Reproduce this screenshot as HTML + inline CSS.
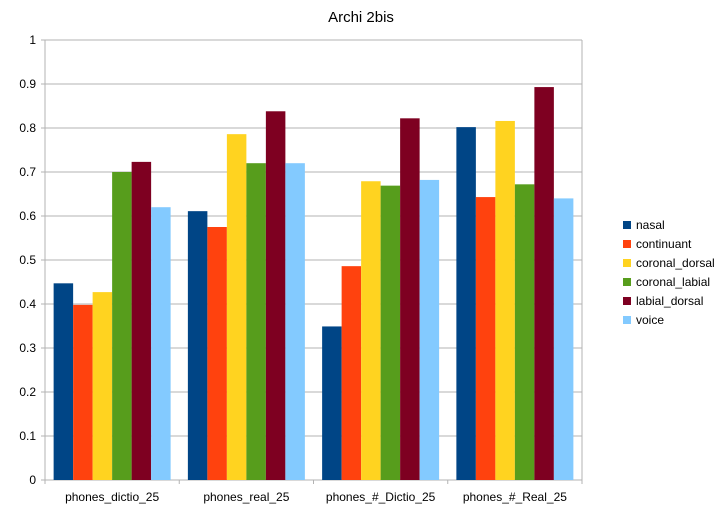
<!DOCTYPE html>
<html><head><meta charset="utf-8"><style>
body{margin:0;background:#fff;}
svg{display:block;font-family:"Liberation Sans",sans-serif;}
</style></head><body>
<svg id="c" width="722" height="526">
<rect width="722" height="526" fill="#fff"/>
<text x="361" y="22" text-anchor="middle" font-size="15">Archi 2bis</text>
<g id="grid"></g><g id="bars"></g><g id="axes"></g><g id="legend"></g>
</svg>
<script>
const categories=["phones_dictio_25","phones_real_25","phones_#_Dictio_25","phones_#_Real_25"];
const seriesNames=["nasal","continuant","coronal_dorsal","coronal_labial","labial_dorsal","voice"];
const nasal=[0.447,0.611,0.349,0.802];
const continuant=[0.398,0.575,0.486,0.643];
const coronalDorsal=[0.427,0.786,0.679,0.816];
const coronalLabial=[0.700,0.720,0.669,0.672];
const labialDorsal=[0.723,0.838,0.822,0.893];
const voice=[0.620,0.720,0.682,0.640];
const yTicks=["0","0.1","0.2","0.3","0.4","0.5","0.6","0.7","0.8","0.9","1"];
const series=[nasal,continuant,coronalDorsal,coronalLabial,labialDorsal,voice];
const colors=["#004586","#ff420e","#ffd320","#579d1c","#7e0021","#83caff"];
const NS="http://www.w3.org/2000/svg";
const L=45,R=582,T=40,B=480;
const y=v=>B-(v/1)*(B-T);
const gw=(R-L)/categories.length, bw=19.5, pad=(gw-bw*6)/2;
const x=(ci,si)=>L+ci*gw+pad+si*bw;
function mk(tag,attrs,parent){const e=document.createElementNS(NS,tag);for(const k in attrs)e.setAttribute(k,attrs[k]);document.getElementById(parent).appendChild(e);return e;}
yTicks.forEach(t=>{const v=parseFloat(t);
 const g=mk("line",{x1:L-4,x2:R,y1:y(v),y2:y(v),stroke:"#b3b3b3","stroke-width":1},"grid");
 
 
 const tx=mk("text",{x:36,y:y(v)+4,"text-anchor":"end","font-size":12},"axes");tx.textContent=t;
 
 
});
for(let i=0;i<=categories.length;i++){
 const edge=(i===0||i===categories.length);
 const l=mk("line",{x1:L+i*gw,x2:L+i*gw,y1:edge?T:B,y2:B+4,stroke:"#b3b3b3"},"grid");
 
 }
categories.forEach((c,ci)=>{
 series.forEach((s,si)=>{const r=mk("rect",{x:x(ci,si),y:y(s[ci]),width:bw,height:B-y(s[ci]),fill:colors[si]},"bars");
  
  });
 const t=mk("text",{x:L+ci*gw+gw/2,y:501,"text-anchor":"middle","font-size":12},"axes");t.textContent=c;
 
 
});
seriesNames.forEach((n,i)=>{const yy=225+i*19;
 const r=mk("rect",{x:623,y:yy-4,width:8,height:8,fill:colors[i]},"legend");
 
 
 const t=mk("text",{x:636,y:yy+4,"font-size":12},"legend");t.textContent=n;
 
 
});
</script>
</body></html>
